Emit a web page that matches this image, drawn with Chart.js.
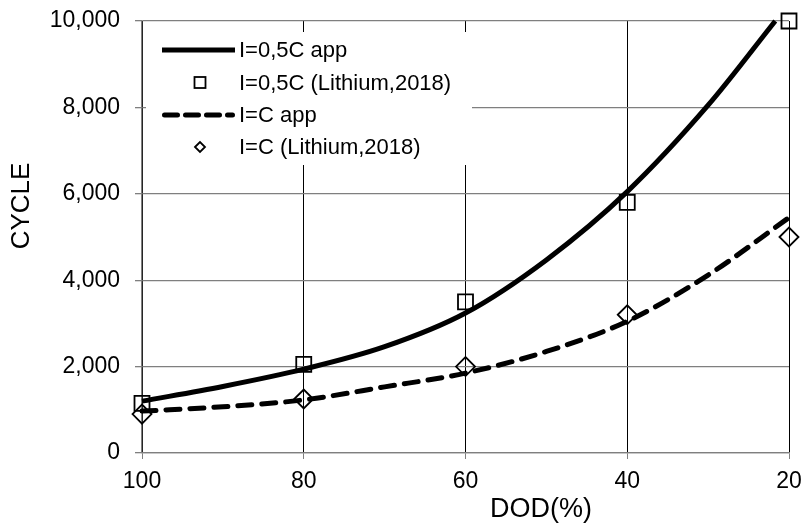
<!DOCTYPE html>
<html><head><meta charset="utf-8">
<script src="https://cdn.jsdelivr.net/npm/chart.js@4/dist/chart.umd.min.js"></script>
<style>html,body{margin:0;padding:0;background:#fff}#wrap{width:804px;height:526px}</style>
</head><body><div id="wrap"><canvas id="c" width="804" height="526"></canvas></div>
<script>
// ---- data ----
const dodTicks = [100, 80, 60, 40, 20];
const measuredDod = [100, 80, 60, 40, 20];
const lithium05 = [1150, 2050, 3500, 5800, 10000];
const lithiumC = [900, 1250, 2000, 3200, 5000];
const app05Dod = [100, 90, 80, 70, 60, 50, 40, 30, 21.7];
const app05 = [1200, 1540, 1940, 2460, 3240, 4470, 6050, 8050, 10000];
const appCDod = [100, 90, 80, 70, 60, 50, 40, 30, 20];
const appC = [970, 1070, 1230, 1530, 1850, 2350, 3050, 4120, 5450];
const seriesLabels = ['I=0,5C app', 'I=0,5C (Lithium,2018)', 'I=C app', 'I=C (Lithium,2018)'];
const xTitle = 'DOD(%)';
const yTitle = 'CYCLE';

const FONT = "'Liberation Sans', Arial, sans-serif";
const pts = (xs, ys) => xs.map((x, i) => ({x: x, y: ys[i]}));

const legendPlugin = {
  id: 'customLegend',
  beforeDatasetsDraw(chart) {
    const ctx = chart.ctx;
    ctx.save();
    ctx.fillStyle = '#fff';
    ctx.fillRect(146, 32, 326, 133);
    ctx.restore();
  },
  afterDraw(chart) {
    const ctx = chart.ctx;
    ctx.save();
    ctx.fillStyle = '#000';
    ctx.textAlign = 'center';
    ctx.textBaseline = 'middle';
    ctx.font = '27px ' + FONT;
    ctx.fillText(xTitle, 541, 510);
    ctx.save();
    ctx.translate(22, 206);
    ctx.rotate(-Math.PI / 2);
    ctx.font = '26px ' + FONT;
    ctx.fillText(yTitle, 0, 0);
    ctx.restore();

    const rows = [50, 82.5, 115, 147];
    const x0 = 162, x1 = 235, tx = 239;
    ctx.font = '22px ' + FONT;
    ctx.textAlign = 'left';
    ctx.textBaseline = 'middle';
    ctx.strokeStyle = '#000';
    ctx.lineWidth = 5;
    ctx.lineCap = 'butt';
    ctx.setLineDash([]);
    ctx.beginPath(); ctx.moveTo(x0, rows[0]); ctx.lineTo(x1, rows[0]); ctx.stroke();
    ctx.lineWidth = 1.8;
    ctx.strokeRect(200 - 5.5, rows[1] - 5.5, 11, 11);
    ctx.lineWidth = 5;
    ctx.lineCap = 'round';
    ctx.setLineDash([13, 8]);
    ctx.beginPath(); ctx.moveTo(x0 + 2.5, rows[2]); ctx.lineTo(x1 - 2.5, rows[2]); ctx.stroke();
    ctx.setLineDash([]);
    ctx.lineWidth = 1.8;
    ctx.lineCap = 'butt';
    ctx.beginPath();
    ctx.moveTo(200 - 5, rows[3]); ctx.lineTo(200, rows[3] - 5);
    ctx.lineTo(200 + 5, rows[3]); ctx.lineTo(200, rows[3] + 5); ctx.closePath();
    ctx.stroke();
    ctx.fillStyle = '#000';
    seriesLabels.forEach((t, i) => ctx.fillText(t, tx, rows[i] + 1));
    ctx.restore();
  }
};

new Chart(document.getElementById('c'), {
  type: 'scatter',
  data: {
    datasets: [
      {label: seriesLabels[0], data: pts(app05Dod, app05), showLine: true, borderColor: '#000',
       borderWidth: 5, pointRadius: 0, cubicInterpolationMode: 'monotone', fill: false, order: 1, clip: false},
      {label: seriesLabels[1], data: pts(measuredDod, lithium05), showLine: false, pointStyle: 'rect',
       pointRadius: 10.6, borderColor: '#000', borderWidth: 1.8, backgroundColor: 'rgba(0,0,0,0)', order: 0, clip: false},
      {label: seriesLabels[2], data: pts(appCDod, appC), showLine: true, borderColor: '#000',
       borderWidth: 5, borderDash: [14, 10], borderCapStyle: 'round', pointRadius: 0,
       cubicInterpolationMode: 'monotone', fill: false, order: 1, clip: false},
      {label: seriesLabels[3], data: pts(measuredDod, lithiumC), showLine: false, pointStyle: 'rectRot',
       pointRadius: 9.5, borderColor: '#000', borderWidth: 1.8, backgroundColor: 'rgba(0,0,0,0)', order: 0, clip: false}
    ]
  },
  options: {
    responsive: false,
    animation: false,
    devicePixelRatio: 1,
    layout: {padding: {top: 21, right: 15, left: 0, bottom: 0}},
    plugins: {legend: {display: false}, tooltip: {enabled: false}},
    elements: {point: {hoverRadius: 0}},
    scales: {
      x: {
        type: 'linear', reverse: true, min: 20, max: 100,
        afterBuildTicks: s => { s.ticks = dodTicks.map(v => ({value: v})); },
        afterFit: s => { s.height = 73; s.paddingLeft = 0; s.paddingRight = 0; },
        ticks: {color: '#000', font: {family: FONT, size: 23}, padding: 9, maxRotation: 0},
        grid: {color: '#000', lineWidth: 1, tickLength: 6, tickColor: '#7f7f7f'},
        border: {color: '#7f7f7f', width: 1.3}
      },
      y: {
        min: 0, max: 10000,
        afterFit: s => { s.width = 142; s.paddingTop = 0; s.paddingBottom = 0; },
        ticks: {stepSize: 2000, color: '#000', font: {family: FONT, size: 23}, padding: 15,
                callback: v => v.toLocaleString('en-US')},
        grid: {color: '#7f7f7f', lineWidth: 1.3, tickLength: 7},
        border: {color: '#7f7f7f', width: 1.3}
      }
    }
  },
  plugins: [legendPlugin]
});
</script>
</body></html>
